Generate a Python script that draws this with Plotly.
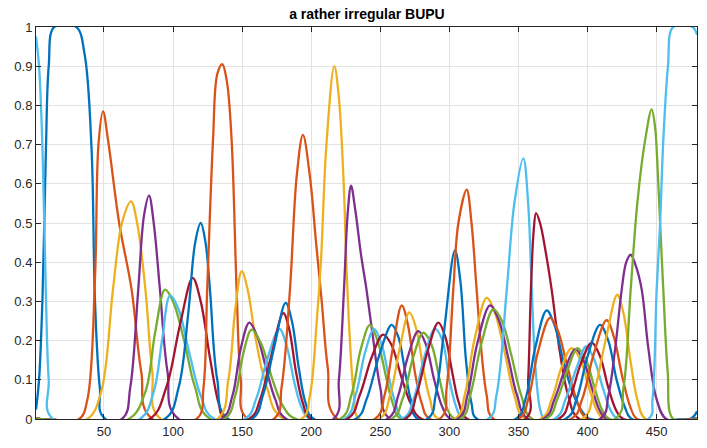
import plotly.graph_objects as go

# ---- data: each bump as a list of (x, y) points ----
b01 = [(0.8,0.024),(3,0.1),(5.5,0.31),(8,0.69),(10,0.9),(14,1.0),(30,1.0),(36,0.93),(41,0.69),(43.5,0.3),(47,0.08),(51,0),(474,0),(479.2,0.02)]
b02 = [(32,0),(38,0.05),(43.5,0.36),(46,0.7),(49.3,0.785),(53,0.71),(61,0.5),(70,0.33),(77,0.12),(85,0)]
b03 = [(38,0),(48,0.07),(56.5,0.33),(63,0.5),(69.6,0.555),(74,0.5),(80,0.33),(85,0.12),(91,0)]
b04 = [(63,0),(69,0.08),(74.8,0.33),(79,0.52),(82.6,0.57),(86,0.5),(90.5,0.33),(96,0.12),(104,0)]
b05 = [(68,0),(80,0.07),(87,0.22),(94.2,0.33),(100,0.3),(108,0.2),(116,0.08),(127,0)]
b06 = [(76,0),(86,0.07),(92,0.2),(97.8,0.315),(104,0.28),(111,0.18),(120,0.06),(130,0)]
b07 = [(83,0),(95,0.08),(105,0.24),(114.2,0.36),(120,0.3),(127,0.15),(133,0.04),(138,0)]
b08 = [(94,0),(104,0.08),(111,0.27),(116,0.45),(120,0.5),(123.5,0.45),(126.7,0.33),(132,0.1),(140,0)]
b09 = [(117,0),(122,0.08),(124.7,0.33),(128.9,0.71),(132,0.88),(135.6,0.905),(139,0.86),(142.4,0.71),(146,0.33),(149,0.1),(154,0)]
b10 = [(132,0),(140,0.1),(145,0.28),(149.7,0.377),(154,0.33),(160,0.2),(168,0.08),(180,0)]
b11 = [(135,0),(143,0.06),(149,0.18),(155.2,0.246),(161,0.21),(168,0.12),(174,0.05),(182,0)]
b12 = [(137,0),(145,0.06),(151,0.17),(156.9,0.228),(164,0.19),(172,0.1),(180,0.03),(189,0)]
b13 = [(152,0),(160,0.05),(168,0.15),(176.9,0.23),(182,0.19),(188,0.09),(193,0.03),(199,0)]
b14 = [(155,0),(163,0.05),(171,0.16),(179.8,0.27),(184,0.23),(189,0.12),(194,0.04),(200,0)]
b15 = [(157,0),(165,0.06),(173,0.18),(181.5,0.296),(186,0.25),(191,0.13),(196,0.04),(202,0)]
b16 = [(173,0),(178.5,0.08),(184.6,0.33),(189.5,0.62),(194,0.725),(199,0.62),(203.5,0.45),(207.6,0.3),(212,0.13),(219,0)]
b17 = [(193,0),(199,0.06),(204,0.25),(207,0.4),(211,0.7),(216.7,0.9),(220,0.82),(223.5,0.6),(225.4,0.4),(228,0.2),(231,0.06),(235,0)]
b18 = [(216,0),(220,0.1),(223.7,0.33),(226.5,0.53),(228.8,0.595),(232,0.53),(236,0.42),(240,0.33),(245,0.2),(250,0.08),(257,0)]
b19 = [(221,0),(229,0.06),(236,0.18),(242.5,0.24),(248,0.2),(254,0.11),(259,0.04),(265,0)]
b20 = [(224,0),(232,0.06),(239,0.17),(245.5,0.23),(251,0.19),(256,0.11),(261,0.04),(267,0)]
b21 = [(226,0),(235,0.06),(244,0.16),(252,0.215),(258,0.19),(265,0.11),(272,0.04),(280,0)]
b22 = [(232,0),(240,0.05),(249,0.16),(258.2,0.24),(263,0.21),(268,0.12),(272,0.05),(277,0)]
b23 = [(246,0),(253,0.06),(259,0.18),(265.5,0.29),(270,0.24),(275,0.12),(280,0.04),(286,0)]
b24 = [(249,0),(257,0.06),(264,0.18),(271,0.272),(276,0.23),(281,0.13),(286,0.05),(292,0)]
b25 = [(255,0),(263,0.06),(270,0.16),(277.5,0.224),(283,0.19),(289,0.1),(295,0.03),(301,0)]
b26 = [(258,0),(266,0.05),(274,0.16),(281.1,0.22),(287,0.19),(293,0.1),(298,0.03),(304,0)]
b27 = [(266,0),(274,0.05),(282,0.16),(289.6,0.23),(295,0.2),(300,0.1),(305,0.03),(310,0)]
b28 = [(268,0),(276,0.06),(284,0.17),(292,0.246),(297,0.21),(302,0.12),(307,0.04),(313,0)]
b29 = [(284,0),(290,0.06),(296,0.22),(304,0.43),(308,0.35),(312,0.15),(316,0.04),(320,0)]
b30 = [(293,0),(298,0.08),(302.8,0.33),(306.5,0.5),(312.5,0.585),(316,0.5),(319.7,0.33),(323,0.18),(327,0.06),(332,0)]
b31 = [(304,0),(311,0.06),(318,0.2),(327,0.309),(333,0.27),(340,0.17),(347,0.06),(355,0)]
b32 = [(306,0),(313,0.06),(320,0.19),(329.4,0.29),(336,0.25),(343,0.15),(349,0.06),(357,0)]
b33 = [(308,0),(315,0.06),(323,0.19),(331.8,0.28),(338,0.25),(345,0.16),(352,0.06),(360,0)]
b34 = [(328,0),(334,0.06),(341.5,0.33),(347,0.55),(353.5,0.665),(357,0.55),(359.6,0.33),(362.5,0.12),(366,0.02),(369,0)]
b35 = [(355,0),(357,0.1),(359,0.33),(361,0.48),(362.7,0.525),(365.6,0.5),(370,0.42),(374,0.33),(380,0.17),(386,0.06),(394,0)]
b36 = [(348,0),(355,0.05),(362,0.18),(370.4,0.277),(376,0.24),(383,0.14),(390,0.06),(398,0.01),(402,0)]
b37 = [(350,0),(357,0.05),(364,0.17),(372.8,0.258),(378,0.23),(385,0.14),(392,0.05),(400,0)]
b38 = [(366,0),(374,0.05),(381,0.13),(388.5,0.181),(395,0.15),(401,0.08),(407,0.02),(412,0)]
b39 = [(368,0),(376,0.05),(384,0.13),(391,0.178),(397,0.15),(403,0.08),(409,0.02),(414,0)]
b40 = [(370,0),(378,0.05),(386,0.13),(392.6,0.181),(399,0.15),(405,0.08),(411,0.02),(416,0)]
b41 = [(376,0),(384,0.05),(392,0.13),(399,0.185),(405,0.15),(411,0.08),(417,0.02),(422,0)]
b42 = [(379,0),(387,0.05),(395,0.14),(403,0.195),(409,0.16),(415,0.08),(421,0.02),(426,0)]
b43 = [(384,0),(392,0.05),(400,0.16),(409,0.24),(415,0.2),(421,0.1),(427,0.03),(432,0)]
b44 = [(388,0),(396,0.05),(404,0.16),(413.8,0.252),(419,0.21),(425,0.11),(431,0.03),(436,0)]
b45 = [(396,0),(404,0.06),(413,0.2),(421.5,0.317),(426,0.27),(431,0.15),(436,0.05),(442,0)]
b46 = [(409,0),(415,0.06),(420,0.18),(424.7,0.33),(428,0.4),(431.2,0.419),(435,0.39),(439.2,0.33),(444,0.18),(450,0.05),(457,0)]
b47 = [(420,0),(426,0.08),(431.2,0.33),(436,0.55),(441.6,0.71),(446.4,0.79),(449,0.74),(450,0.69),(452.5,0.5),(454.8,0.33),(458,0.12),(462,0)]
b48 = [(0.8,0.976),(3,0.9),(5.5,0.69),(8,0.31),(10,0.1),(13,0),(444,0),(447,0.05),(450,0.33),(452.5,0.5),(454.8,0.71),(458.2,0.9),(462,1.0),(476,1.0),(479.2,0.98)]

bumps = [b01,b02,b03,b04,b05,b06,b07,b08,b09,b10,b11,b12,b13,b14,b15,b16,
         b17,b18,b19,b20,b21,b22,b23,b24,b25,b26,b27,b28,b29,b30,b31,b32,
         b33,b34,b35,b36,b37,b38,b39,b40,b41,b42,b43,b44,b45,b46,b47,b48]

x_ticks = [50, 100, 150, 200, 250, 300, 350, 400, 450]
y_ticks = [0, 0.1, 0.2, 0.3, 0.4, 0.5, 0.6, 0.7, 0.8, 0.9, 1]
y_tick_labels = ["0", "0.1", "0.2", "0.3", "0.4", "0.5", "0.6", "0.7", "0.8", "0.9", "1"]
title_text = "a rather irregular BUPU"
X_MIN, X_MAX = 0.8, 479.2

colors = ["#0072BD", "#D95319", "#EDB120", "#7E2F8E", "#77AC30", "#4DBEEE", "#A2142F"]

fig = go.Figure()
for i, b in enumerate(bumps):
    xs = [p[0] for p in b]
    ys = [p[1] for p in b]
    if xs[0] > X_MIN:
        xs = [X_MIN] + xs
        ys = [0] + ys
    if xs[-1] < X_MAX:
        xs = xs + [X_MAX]
        ys = ys + [0]
    fig.add_trace(go.Scatter(x=xs, y=ys, mode="lines",
                             line=dict(color=colors[i % 7], width=2.3, shape="spline", smoothing=1.0),
                             showlegend=False, hoverinfo="skip"))

axis_common = dict(showline=True, linecolor="#262626", linewidth=1, mirror="ticks",
                   ticks="inside", ticklen=5, tickcolor="#262626", automargin=False,
                   showgrid=True, gridcolor="#e3e3e3", gridwidth=1, zeroline=False,
                   tickfont=dict(family="Liberation Sans, Arial, sans-serif", size=13, color="#262626"))

fig.update_xaxes(range=[X_MIN, X_MAX], tickvals=x_ticks, **axis_common)
fig.update_yaxes(range=[0, 1], tickvals=y_ticks, ticktext=y_tick_labels, **axis_common)

fig.update_layout(
    width=707, height=448,
    margin=dict(l=36, r=10, t=27, b=29),
    paper_bgcolor="white", plot_bgcolor="white",
    title=dict(text="<b>" + title_text + "</b>", x=0.519, xanchor="center", y=0.969, yanchor="middle",
               font=dict(family="Liberation Sans, Arial, sans-serif", size=14, color="#000000")),
)

# remove the default 8px page margin so the figure fills the window exactly
fig.write_html("out.html", config={"displayModeBar": False},
               post_script="document.body.style.margin='0';")
